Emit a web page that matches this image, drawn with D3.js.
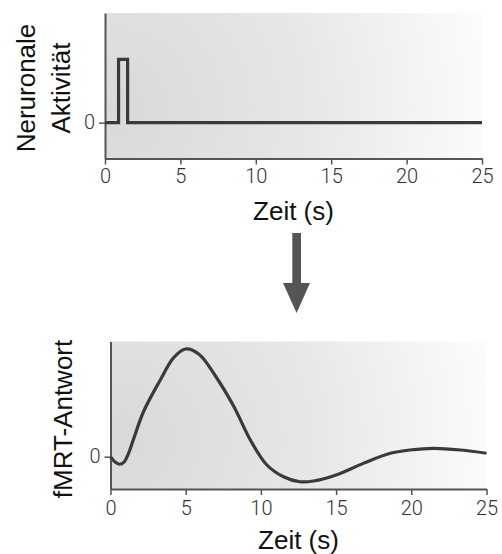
<!DOCTYPE html>
<html>
<head>
<meta charset="utf-8">
<script src="https://cdn.jsdelivr.net/npm/d3@7"></script>
<style>
  html, body { margin: 0; padding: 0; background: #ffffff; }
  svg { display: block; }
  .tick text { font-family: Roboto, "Liberation Sans", sans-serif; font-weight: 300; font-size: 20px; fill: #333; }
  .lbl { font-family: "Liberation Sans", Arial, sans-serif; font-size: 26px; fill: #111; }
</style>
</head>
<body>
<script>
// Neural activity: a short block of stimulation (step function)
const neuralTime  = [0, 0.9, 0.9, 1.5, 1.5, 25];
const neuralValue = [0, 0,   1,   1,   0,   0];

// Haemodynamic (BOLD) response following the stimulus
const boldTime  = [0, 0.3, 0.6, 0.9, 1.2, 1.5, 2.2, 3.3, 4.2, 5.0, 5.9, 7.0, 8.2, 9.3, 10.4, 11.5, 12.6, 13.5, 15.0, 16.8, 18.6, 19.9, 21.5, 23.3, 25];
const boldValue = [0, -0.05, -0.07, -0.05, 0.03, 0.15, 0.42, 0.71, 0.92, 1.0, 0.95, 0.745, 0.466, 0.155, -0.077, -0.186, -0.233, -0.226, -0.17, -0.062, 0.032, 0.062, 0.078, 0.062, 0.032];

const xTicks = [0, 5, 10, 15, 20, 25];
const yTicks = [0];
const xLabel = "Zeit (s)";
const topYLabel = ["Neruronale", "Aktivität"];
const bottomYLabel = ["fMRT-Antwort"];

const W = 502, H = 554;
const svg = d3.select("body").append("svg").attr("width", W).attr("height", H);
const defs = svg.append("defs");

function panel(opts) {
  const { id, left, right, top, bottom, yDomain, times, values, curve, labelLines, labelCenterY, labelX0, tickBase, titleBase } = opts;
  const x = d3.scaleLinear().domain([0, 25]).range([left, right]);
  const y = d3.scaleLinear().domain(yDomain).range([bottom, top]);

  const w = right - left, h = bottom - top;
  const grad = defs.append("radialGradient")
    .attr("id", id).attr("gradientUnits", "userSpaceOnUse")
    .attr("cx", left + 0.03 * w).attr("cy", top + 0.65 * h).attr("r", w * 1.02);
  grad.append("stop").attr("offset", 0).attr("stop-color", "#d9d9d9");
  grad.append("stop").attr("offset", 0.5).attr("stop-color", "#e7e7e7");
  grad.append("stop").attr("offset", 1).attr("stop-color", "#fdfdfd");

  const g = svg.append("g");
  g.append("rect").attr("x", left).attr("y", top).attr("width", w).attr("height", h)
    .attr("fill", `url(#${id})`);

  // axes
  const xa = g.append("g").attr("transform", `translate(0,${bottom})`)
    .call(d3.axisBottom(x).tickValues(xTicks).tickFormat(d3.format("d"))
      .tickSize(6).tickPadding(4).tickSizeOuter(0));
  const ya = g.append("g").attr("transform", `translate(${left},0)`)
    .call(d3.axisLeft(y).tickValues(yTicks).tickFormat(d3.format("d"))
      .tickSize(6).tickPadding(4).tickSizeOuter(0));
  [xa, ya].forEach(a => {
    a.select(".domain").attr("stroke", "#555").attr("stroke-width", 2);
    a.selectAll(".tick line").attr("stroke", "#555").attr("stroke-width", 1.5);
    a.attr("font-family", null).attr("font-size", null);
  });
  xa.selectAll(".tick text").attr("dy", null).attr("y", tickBase - bottom);
  ya.selectAll(".tick text").attr("dy", "0.3em");

  // data line
  const pts = times.map((t, i) => [t, values[i]]);
  g.append("path").datum(pts)
    .attr("fill", "none").attr("stroke", "#3a3a3a").attr("stroke-width", 3.2)
    .attr("stroke-linejoin", "miter")
    .attr("d", d3.line().x(d => x(d[0])).y(d => y(d[1])).curve(curve));

  // x title
  g.append("text").attr("class", "lbl").attr("text-anchor", "middle")
    .attr("x", (left + right) / 2).attr("y", titleBase).text(xLabel);

  // y title (rotated, possibly two lines)
  labelLines.forEach((line, i) => {
    g.append("text").attr("class", "lbl").attr("text-anchor", "middle")
      .attr("transform", `translate(${labelX0 + i * 35},${labelCenterY}) rotate(-90)`)
      .text(line);
  });
}

panel({
  id: "bgTop", left: 105, right: 482, top: 13, bottom: 158.5,
  yDomain: [-0.565, 1.73], times: neuralTime, values: neuralValue, curve: d3.curveLinear,
  labelLines: topYLabel, labelCenterY: 88, labelX0: 35, tickBase: 183, titleBase: 220
});

panel({
  id: "bgBottom", left: 110.5, right: 486.5, top: 341.5, bottom: 489,
  yDomain: [-0.30, 1.07], times: boldTime, values: boldValue, curve: d3.curveCatmullRom.alpha(0.5),
  labelLines: bottomYLabel, labelCenterY: 419, labelX0: 72, tickBase: 515, titleBase: 549
});

// arrow between the two panels
svg.append("path")
  .attr("d", "M292.3,233 L301,233 L301,283 L310,283 L296.6,313 L283,283 L292.3,283 Z")
  .attr("fill", "#555");
</script>
</body>
</html>
